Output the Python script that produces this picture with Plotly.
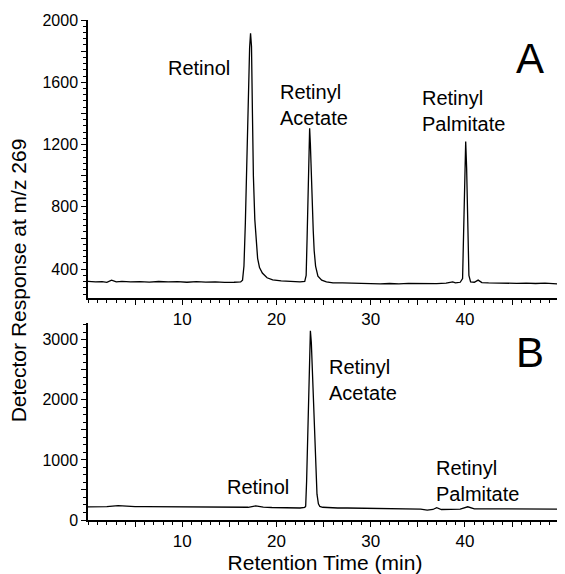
import plotly.graph_objects as go

# ---- data ----
# Panel A trace (retention time in min, detector response)
a_time = [0.0, 0.8, 1.5, 2.0, 2.5, 3.0, 3.6, 4.5, 5.5, 6.5, 7.5, 8.5, 9.5, 10.5, 11.5, 12.5,
          13.5, 14.5, 15.5, 16.2,
          16.4, 16.55, 16.7, 16.85, 17.0, 17.15, 17.25, 17.35, 17.45, 17.55, 17.7, 17.85, 18.0,
          18.2, 18.5, 19.0, 19.6, 20.5, 21.5, 22.5, 23.0,
          23.15, 23.25, 23.35, 23.45, 23.52, 23.6, 23.7, 23.8, 23.9, 24.0, 24.15, 24.4, 24.8,
          25.3, 26.0, 27.0, 28.0, 29.0, 30.0, 31.0, 32.0, 33.0, 34.0, 35.0, 36.0, 37.0, 38.0,
          38.7, 39.0, 39.5, 39.75, 39.88, 39.98, 40.08, 40.18, 40.3, 40.42, 40.6, 41.0, 41.4,
          41.8, 42.5, 43.5, 44.5, 45.5, 46.5, 47.5, 48.5, 49.5, 50.3]
a_resp = [322, 318, 320, 316, 330, 318, 322, 318, 320, 317, 321, 318, 320, 316, 320, 317,
          319, 315, 316, 318,
          330, 420, 700, 1100, 1500, 1820, 1915, 1830, 1400, 1000, 720, 560, 470,
          410, 375, 345, 332, 325, 320, 318, 322,
          360, 600, 950, 1230, 1305, 1200, 950, 780, 650, 520, 420, 355, 330,
          318, 312, 312, 310, 307, 309, 306, 308, 306, 309, 307, 309, 307, 310,
          318, 312, 316, 340, 700, 1100, 1220, 1050, 600, 360, 318, 316, 330,
          314, 312, 310, 311, 309, 311, 308, 310, 306, 304]

# Panel B trace
b_time = [0, 1, 2, 3.2, 4, 5, 6, 7, 8, 9, 10, 11, 12, 13, 14, 15, 16, 17, 17.8, 18.6,
          19.5, 20.5, 21.5, 22.5, 23.0,
          23.1, 23.2, 23.3, 23.4, 23.5, 23.6, 23.7, 23.8, 23.9, 24.0, 24.1, 24.2, 24.3, 24.45,
          24.6, 24.9, 25.5, 26.5, 27.5, 28.5, 29.5, 30.5, 31.5, 32.5, 33.5, 34.5, 35.3, 36.0,
          36.6, 37.0, 37.5, 38.5, 39.5, 40.3, 41.0, 42, 43, 44, 45, 46, 47, 48, 49, 50.3]
b_resp = [220, 222, 224, 240, 228, 224, 222, 220, 218, 216, 214, 212, 210, 210, 208, 208,
          210, 212, 235, 215,
          208, 204, 200, 200, 212,
          230, 650, 1350, 2200, 2850, 3150, 2950, 2550, 2150, 1750, 1300, 820, 430, 270,
          225, 212, 205, 200, 200, 198, 196, 195, 194, 190, 188, 186, 180, 165,
          175, 205, 175, 178, 180, 220, 185, 186, 185, 186, 185, 186, 185, 184, 184, 182]

# Tick labels
x_tickvals = [5, 10, 15, 20, 25, 30, 35, 40, 45, 50]
x_ticktext = ["", "10", "", "20", "", "30", "", "40", "", ""]
a_tickvals = [400, 600, 800, 1000, 1200, 1400, 1600, 1800, 2000]
a_ticktext = ["400", "", "800", "", "1200", "", "1600", "", "2000"]
b_tickvals = [0, 500, 1000, 1500, 2000, 2500, 3000]
b_ticktext = ["0", "", "1000", "", "2000", "", "3000"]

# Peak labels: (text, time, response)
a_labels = [("Retinol", 11.8, 1692), ("Retinyl<br>Acetate", 24.0, 1454),
            ("Retinyl<br>Palmitate", 39.8, 1416)]
b_labels = [("Retinyl<br>Acetate", 29.2, 2331), ("Retinol", 18.0, 549),
            ("Retinyl<br>Palmitate", 41.3, 649)]

FONT = "Liberation Sans, Arial, Helvetica, sans-serif"

fig = go.Figure()
fig.add_trace(go.Scatter(x=a_time, y=a_resp, mode="lines", xaxis="x", yaxis="y",
                         line=dict(color="black", width=1.3), showlegend=False))
fig.add_trace(go.Scatter(x=b_time, y=b_resp, mode="lines", xaxis="x2", yaxis="y2",
                         line=dict(color="black", width=1.3), showlegend=False))

xcommon = dict(range=[0, 50.3], showgrid=False, zeroline=False, showline=True,
               linecolor="black", linewidth=1.5, ticks="outside", ticklen=5,
               tickwidth=1.3, tickcolor="black", tickvals=x_tickvals, ticktext=x_ticktext,
               tickfont=dict(family=FONT, size=17, color="black"),
               minor=dict(dtick=1, tick0=0, ticks="outside", ticklen=3,
                          tickcolor="black", tickwidth=1))
ycommon = dict(showgrid=False, zeroline=False, showline=True, linecolor="black",
               linewidth=1.5, ticks="outside", ticklen=5, tickwidth=1.3, tickcolor="black",
               tickfont=dict(family=FONT, size=16, color="black"))

annotations = []
for t, x, y in a_labels:
    annotations.append(dict(text=t, x=x, y=y, xref="x", yref="y", showarrow=False,
                            font=dict(family=FONT, size=20, color="black"), align="left"))
for t, x, y in b_labels:
    annotations.append(dict(text=t, x=x, y=y, xref="x2", yref="y2", showarrow=False,
                            font=dict(family=FONT, size=20, color="black"), align="left"))
annotations.append(dict(text="A", x=46.9, y=1756, xref="x", yref="y", showarrow=False,
                        font=dict(family=FONT, size=42, color="black")))
annotations.append(dict(text="B", x=46.9, y=2797, xref="x2", yref="y2", showarrow=False,
                        font=dict(family=FONT, size=42, color="black")))
annotations.append(dict(text="Detector Response at m/z 269", x=-0.147, y=0.48,
                        xref="paper", yref="paper", showarrow=False, textangle=-90,
                        xanchor="center", yanchor="middle",
                        font=dict(family=FONT, size=21, color="black")))

fig.update_layout(
    width=557, height=566,
    margin=dict(l=80, r=3, t=12, b=54),
    paper_bgcolor="white", plot_bgcolor="white",
    xaxis=dict(xcommon, anchor="y", domain=[0, 1]),
    yaxis=dict(ycommon, anchor="x", domain=[0.444, 1], range=[215, 2000],
               tickvals=a_tickvals, ticktext=a_ticktext,
               minor=dict(dtick=40, tick0=0, ticks="outside", ticklen=3,
                          tickcolor="black", tickwidth=1)),
    xaxis2=dict(xcommon, anchor="y2", domain=[0, 1],
                title=dict(text="Retention Time (min)", standoff=2,
                           font=dict(family=FONT, size=21, color="black"))),
    yaxis2=dict(ycommon, anchor="x2", domain=[0, 0.394], range=[0, 3280],
                tickvals=b_tickvals, ticktext=b_ticktext,
                minor=dict(dtick=125, tick0=0, ticks="outside", ticklen=3,
                           tickcolor="black", tickwidth=1)),
    annotations=annotations,
)

fig.write_html("out.html")
